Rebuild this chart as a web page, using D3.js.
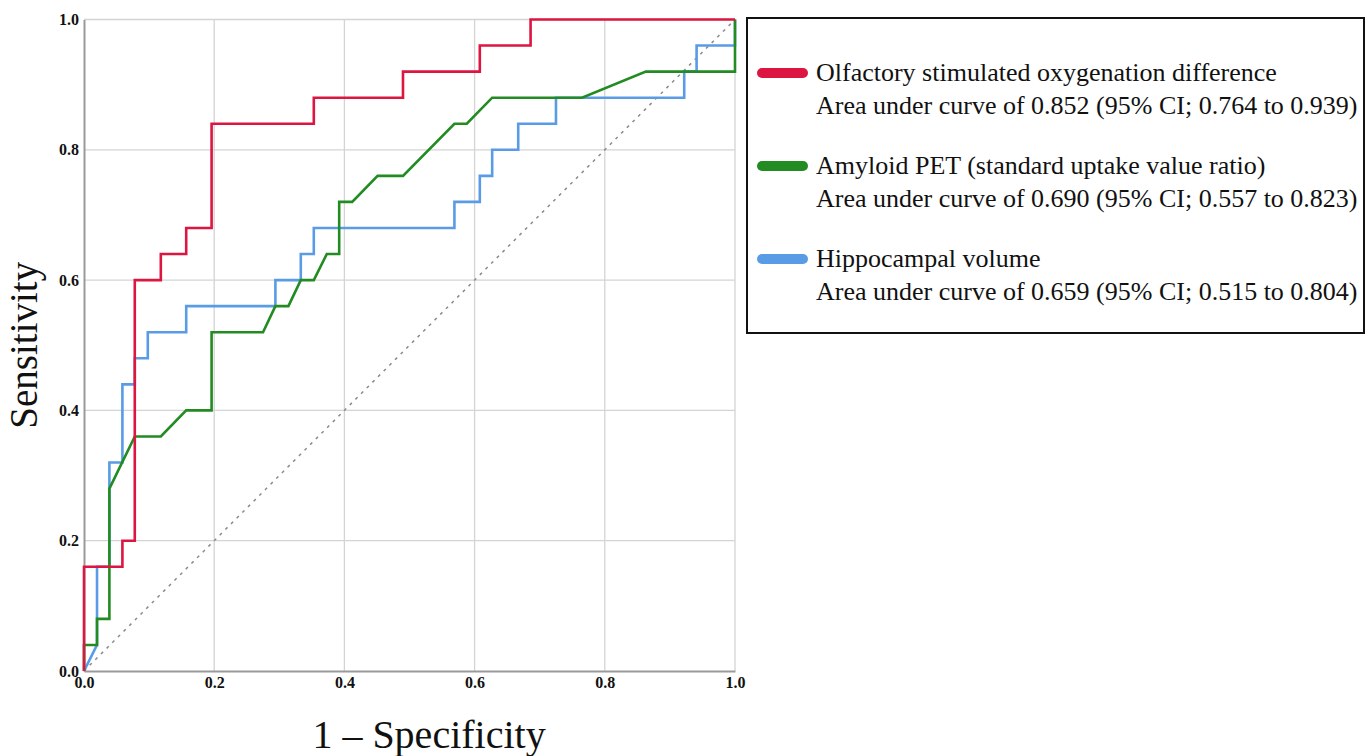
<!DOCTYPE html>
<html><head><meta charset="utf-8">
<script src="https://cdn.jsdelivr.net/npm/d3@7"></script>
<style>
html,body{margin:0;padding:0;background:#fff;}
svg{display:block;}
</style></head>
<body>
<script>
// ---- data ----
const seriesNames = [
  "Olfactory stimulated oxygenation difference",
  "Amyloid PET (standard uptake value ratio)",
  "Hippocampal volume"
];
const aucLabels = [
  "Area under curve of 0.852 (95% CI; 0.764 to 0.939)",
  "Area under curve of 0.690 (95% CI; 0.557 to 0.823)",
  "Area under curve of 0.659 (95% CI; 0.515 to 0.804)"
];
const seriesColors = ["#dc1641", "#228b22", "#5a9be6"];
// [1-specificity, sensitivity]
const olfactory = [[0,0],[0,0.16],[0.059,0.16],[0.059,0.2],[0.078,0.2],[0.078,0.6],[0.118,0.6],[0.118,0.64],[0.157,0.64],[0.157,0.68],[0.196,0.68],[0.196,0.84],[0.353,0.84],[0.353,0.88],[0.49,0.88],[0.49,0.92],[0.608,0.92],[0.608,0.96],[0.686,0.96],[0.686,1],[1,1]];
const amyloid = [[0,0],[0,0.04],[0.02,0.04],[0.02,0.08],[0.039,0.08],[0.039,0.28],[0.078,0.36],[0.118,0.36],[0.157,0.4],[0.196,0.4],[0.196,0.52],[0.275,0.52],[0.294,0.56],[0.314,0.56],[0.333,0.6],[0.353,0.6],[0.373,0.64],[0.392,0.64],[0.392,0.72],[0.412,0.72],[0.451,0.76],[0.49,0.76],[0.569,0.84],[0.588,0.84],[0.627,0.88],[0.765,0.88],[0.863,0.92],[1,0.92],[1,1]];
const hippocampal = [[0,0],[0.02,0.04],[0.02,0.16],[0.039,0.16],[0.039,0.32],[0.059,0.32],[0.059,0.44],[0.078,0.44],[0.078,0.48],[0.098,0.48],[0.098,0.52],[0.157,0.52],[0.157,0.56],[0.294,0.56],[0.294,0.6],[0.333,0.6],[0.333,0.64],[0.353,0.64],[0.353,0.68],[0.569,0.68],[0.569,0.72],[0.608,0.72],[0.608,0.76],[0.627,0.76],[0.627,0.8],[0.667,0.8],[0.667,0.84],[0.725,0.84],[0.725,0.88],[0.922,0.88],[0.922,0.92],[0.941,0.92],[0.941,0.96],[1,0.96],[1,1]];
const seriesData = [olfactory, amyloid, hippocampal];
const tickValues = [0, 0.2, 0.4, 0.6, 0.8, 1.0];
const gridValues = [0.2, 0.4, 0.6, 0.8, 1.0];
const xTitle = "1 – Specificity";
const yTitle = "Sensitivity";

// ---- layout ----
const W = 1367, H = 756;
const serif = "'Liberation Serif', 'Times New Roman', serif";
const svg = d3.select("body").append("svg").attr("width", W).attr("height", H);
const x = d3.scaleLinear().domain([0,1]).range([84, 735]);
const y = d3.scaleLinear().domain([0,1]).range([671, 19.5]);

// gridlines
const grid = svg.append("g").attr("stroke", "#d4d4d4").attr("stroke-width", 1.3);
grid.selectAll("line.v").data(gridValues).join("line")
  .attr("x1", d => x(d)).attr("x2", d => x(d)).attr("y1", y(0)).attr("y2", y(1));
grid.selectAll("line.h").data(gridValues).join("line")
  .attr("y1", d => y(d)).attr("y2", d => y(d)).attr("x1", x(0)).attr("x2", x(1));

// axes
const xAxis = d3.axisBottom(x).tickValues(tickValues).tickFormat(d3.format(".1f")).tickSize(0).tickPadding(6);
const yAxis = d3.axisLeft(y).tickValues(tickValues).tickFormat(d3.format(".1f")).tickSize(0).tickPadding(5);
const gx = svg.append("g").attr("transform", `translate(0,${y(0)})`).call(xAxis);
const gy = svg.append("g").attr("transform", `translate(${x(0)},0)`).call(yAxis);
[gx, gy].forEach(g => {
  g.attr("font-size", 16).attr("font-family", serif);
  g.select(".domain").attr("stroke", "#9a9a9a").attr("stroke-width", 2);
  g.selectAll("text").attr("font-family", serif).attr("font-weight", "bold")
    .attr("font-size", 16).attr("fill", "#111");
});

// diagonal reference
svg.append("line")
  .attr("x1", x(0)).attr("y1", y(0)).attr("x2", x(1)).attr("y2", y(1))
  .attr("stroke", "#8a8a8a").attr("stroke-width", 1.5).attr("stroke-dasharray", "3,5");

// curves
const line = d3.line().x(d => x(d[0])).y(d => y(d[1]));
[2, 1, 0].forEach(i => {
  svg.append("path").datum(seriesData[i])
    .attr("d", line).attr("fill", "none")
    .attr("stroke", seriesColors[i]).attr("stroke-width", 2.6)
    .attr("stroke-linejoin", "miter");
});

// axis titles
svg.append("text").attr("x", x(0.53)).attr("y", 748).attr("text-anchor", "middle")
  .attr("font-family", serif).attr("font-size", 40).attr("fill", "#111").text(xTitle);
svg.append("text").attr("transform", `translate(37,${y(0.5)}) rotate(-90)`).attr("text-anchor", "middle")
  .attr("font-family", serif).attr("font-size", 39).attr("fill", "#111").text(yTitle);

// legend
const lg = svg.append("g");
lg.append("rect").attr("x", 747).attr("y", 18).attr("width", 617).attr("height", 315)
  .attr("fill", "#fff").attr("stroke", "#111").attr("stroke-width", 2);
const rowY = [73, 166, 259];
seriesNames.forEach((name, i) => {
  lg.append("line").attr("x1", 762).attr("x2", 803).attr("y1", rowY[i]).attr("y2", rowY[i])
    .attr("stroke", seriesColors[i]).attr("stroke-width", 10).attr("stroke-linecap", "round");
  lg.append("text").attr("x", 816).attr("y", rowY[i] + 8)
    .attr("font-family", serif).attr("font-size", 26).attr("fill", "#111").text(name);
  lg.append("text").attr("x", 816).attr("y", rowY[i] + 41)
    .attr("font-family", serif).attr("font-size", 26).attr("fill", "#111").text(aucLabels[i]);
});
</script>
</body></html>
